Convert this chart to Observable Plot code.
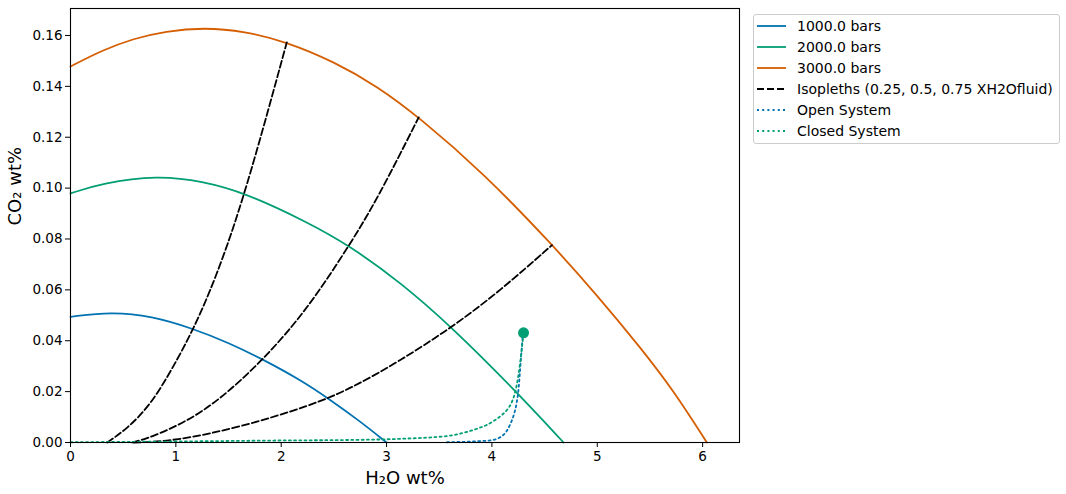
<!DOCTYPE html>
<html>
<head>
<meta charset="utf-8">
<script src="https://cdn.jsdelivr.net/npm/d3@7"></script>
<script src="https://cdn.jsdelivr.net/npm/@observablehq/plot@0.6"></script>
<style>
  html, body { margin: 0; padding: 0; background: #fff; }
  body { width: 1066px; height: 494px; position: relative; overflow: hidden; font-family: "DejaVu Sans", sans-serif; }
  #chart { position: absolute; left: 0; top: 0; }
  #legend { position: absolute; left: 753px; top: 14px; width: 307px; height: 130px; border: 1px solid #cccccc; border-radius: 3px; box-sizing: border-box; background: #fff; }
  .row { position: absolute; left: 0; height: 21px; display: flex; align-items: center; font-size: 14px; color: #000; white-space: nowrap; }
  .row svg { margin-left: 3px; margin-right: 11px; }
</style>
</head>
<body>
<div id="chart"></div>
<div id="legend"></div>
<script>
// ---- data ----
const xLabel = "H₂O wt%";
const yLabel = "CO₂ wt%";
const xTicks = [0, 1, 2, 3, 4, 5, 6];
const yTicks = [0, 0.02, 0.04, 0.06, 0.08, 0.10, 0.12, 0.14, 0.16];

const seriesNames = ["1000.0 bars", "2000.0 bars", "3000.0 bars"];
const seriesColors = ["#0072B2", "#009E73", "#D55E00"];

const sat1000X = [0, 0.388, 0.767, 1.17, 1.5, 1.834, 2.19, 2.451, 2.75, 3.0];
const sat1000Y = [0.0494, 0.0514, 0.0497, 0.0447, 0.0392, 0.0325, 0.0244, 0.0172, 0.0083, 0.0];

const sat2000X = [0, 0.294, 0.83, 1.25, 1.66, 2.25, 2.647, 3.131, 3.621, 4.222, 4.68];
const sat2000Y = [0.0979, 0.1019, 0.1050, 0.1027, 0.0981, 0.0866, 0.0774, 0.063, 0.0453, 0.0204, 0.0];

const sat3000X = [0, 0.3, 0.6, 0.9, 1.27, 1.65, 2.05, 2.5, 2.91, 3.305, 3.92, 4.57, 5.0, 5.408, 5.724, 6.04];
const sat3000Y = [0.1478, 0.1542, 0.1588, 0.1617, 0.1631, 0.1617, 0.1575, 0.1497, 0.1401, 0.1280, 0.1059, 0.0779, 0.0578, 0.0374, 0.0204, 0.0];

const isoNames = ["0.25", "0.5", "0.75"];
const iso1X = [0.348, 0.538, 0.759, 0.96, 1.17, 1.376, 1.652, 2.053];
const iso1Y = [0.0, 0.0054, 0.0148, 0.0285, 0.0447, 0.0643, 0.0966, 0.1573];
const iso2X = [0.585, 0.759, 1.1, 1.41, 1.834, 2.25, 2.647, 2.91, 3.305];
const iso2Y = [0.0, 0.0019, 0.0082, 0.0166, 0.0326, 0.0525, 0.0775, 0.0955, 0.1278];
const iso3X = [0.6, 0.98, 1.613, 2.277, 2.657, 3.131, 3.621, 4.08, 4.57];
const iso3Y = [0.0, 0.0005, 0.006, 0.0145, 0.0211, 0.0322, 0.0453, 0.0597, 0.0776];

const openX = [3.574, 3.985, 4.05, 4.1, 4.143, 4.175, 4.205, 4.232, 4.253, 4.27, 4.283, 4.295];
const openY = [0.0001, 0.0008, 0.0015, 0.0027, 0.0047, 0.0073, 0.0105, 0.015, 0.0211, 0.030, 0.037, 0.0431];

const closedX = [0, 1.0, 2.0, 2.657, 3.131, 3.605, 3.764, 3.858, 3.95, 4.03, 4.1, 4.143, 4.19, 4.222, 4.25, 4.27, 4.287, 4.3];
const closedY = [0.0001, 0.0004, 0.0008, 0.001, 0.00145, 0.0027, 0.0042, 0.0054, 0.0069, 0.0088, 0.011, 0.0128, 0.016, 0.020, 0.026, 0.032, 0.038, 0.0431];

const startX = [4.3];
const startY = [0.0431];

const legendLabels = ["1000.0 bars", "2000.0 bars", "3000.0 bars", "Isopleths (0.25, 0.5, 0.75 XH2Ofluid)", "Open System", "Closed System"];

// ---- build tables ----
const zipXY = (xs, ys, extra) => xs.map((x, i) => ({x, y: ys[i], ...extra}));
const satData = [
  ...zipXY(sat1000X, sat1000Y, {s: seriesNames[0]}),
  ...zipXY(sat2000X, sat2000Y, {s: seriesNames[1]}),
  ...zipXY(sat3000X, sat3000Y, {s: seriesNames[2]})
];
const isoData = [
  ...zipXY(iso1X, iso1Y, {s: isoNames[0]}),
  ...zipXY(iso2X, iso2Y, {s: isoNames[1]}),
  ...zipXY(iso3X, iso3Y, {s: isoNames[2]})
];
const openData = zipXY(openX, openY, {});
const closedData = zipXY(closedX, closedY, {});
const startData = zipXY(startX, startY, {});

const lw = 1.8;
const chart = Plot.plot({
  width: 745,
  height: 494,
  marginLeft: 70,
  marginRight: 6,
  marginTop: 8,
  marginBottom: 52,
  style: {fontFamily: "DejaVu Sans, sans-serif", color: "#000", background: "#fff", overflow: "visible"},
  x: {domain: [0, 6.35], label: null},
  y: {domain: [0, 0.1706], label: null},
  color: {domain: seriesNames, range: seriesColors},
  marks: [
    Plot.line(satData, {x: "x", y: "y", z: "s", stroke: "s", strokeWidth: lw, curve: "basis"}),
    Plot.line(isoData, {x: "x", y: "y", z: "s", stroke: "black", strokeWidth: lw, strokeDasharray: "7,3", curve: "basis"}),
    Plot.line(openData, {x: "x", y: "y", stroke: seriesColors[0], strokeWidth: lw, strokeDasharray: "2,3.2", curve: "monotone-x"}),
    Plot.line(closedData, {x: "x", y: "y", stroke: seriesColors[1], strokeWidth: lw, strokeDasharray: "2,3.2", curve: "monotone-x"}),
    Plot.dot(startData, {x: "x", y: "y", r: 5.5, fill: seriesColors[1], stroke: null}),
    Plot.axisX({ticks: xTicks, tickSize: 5, tickPadding: 4, fontSize: 13.5, label: null, tickFormat: d3.format("d")}),
    Plot.axisY({ticks: yTicks, tickSize: 5, tickPadding: 3, fontSize: 13.5, label: null, tickFormat: d3.format(".2f")}),
    Plot.text([xLabel], {frameAnchor: "bottom", dy: 41, text: d => d, fontSize: 18, fill: "black"}),
    Plot.text([yLabel], {frameAnchor: "left", dx: -55, rotate: -90, text: d => d, fontSize: 18, fill: "black"}),
    Plot.frame({stroke: "black", strokeWidth: 1.1})
  ]
});
document.getElementById("chart").appendChild(chart);

// ---- legend ----
const legendStyles = [
  {color: seriesColors[0], dash: null},
  {color: seriesColors[1], dash: null},
  {color: seriesColors[2], dash: null},
  {color: "black", dash: "7,3"},
  {color: seriesColors[0], dash: "2,3.2"},
  {color: seriesColors[1], dash: "2,3.2"}
];
const legend = document.getElementById("legend");
legendLabels.forEach((lab, i) => {
  const row = document.createElement("div");
  row.className = "row";
  row.style.top = (0 + i * 21) + "px";
  const st = legendStyles[i];
  row.innerHTML = `<svg width="29" height="10"><line x1="0" x2="29" y1="5" y2="5" stroke="${st.color}" stroke-width="${lw}" ${st.dash ? `stroke-dasharray="${st.dash}"` : ""}/></svg><span>${lab}</span>`;
  legend.appendChild(row);
});
</script>
</body>
</html>
